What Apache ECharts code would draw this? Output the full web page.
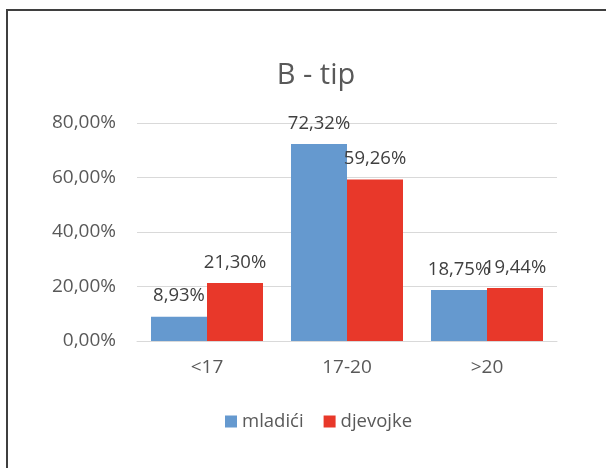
<!DOCTYPE html>
<html>
<head>
<meta charset="utf-8">
<script src="https://cdn.jsdelivr.net/npm/echarts@6/dist/echarts.min.js"></script>
<style>
  html, body { margin: 0; padding: 0; background: #fff; overflow: hidden; }
  #frame { position: absolute; left: 6px; top: 9px; width: 700px; height: 600px; border: 2px solid #3f3f3f; }
  #chart { position: absolute; left: 0; top: 0; width: 606px; height: 468px; }
</style>
</head>
<body>
<div id="frame"></div>
<div id="chart"></div>
<script>
const categories = ['<17', '17-20', '>20']
const mladici = [8.93, 72.32, 18.75]
const djevojke = [21.30, 59.26, 19.44]
const yTicks = [0, 20, 40, 60, 80]

const fmt = v => v.toFixed(2).replace('.', ',') + '%'
const font = '"Open Sans", "DejaVu Sans", sans-serif'

const chart = echarts.init(document.getElementById('chart'))

function barSeries(name, data, color) {
  return {
    name,
    type: 'bar',
    data,
    barGap: '0%',
    barCategoryGap: '20%',
    itemStyle: { color },
    label: {
      show: true,
      position: 'top',
      distance: 11,
      color: '#404040',
      fontFamily: font,
      fontSize: 18.5,
      formatter: p => fmt(p.value),
    },
  }
}

chart.setOption({
  animation: false,
  backgroundColor: 'transparent',
  title: {
    text: 'B - tip',
    left: 311,
    top: 56,
    textAlign: 'center',
    textStyle: { color: '#595959', fontFamily: font, fontSize: 29, fontWeight: 'normal' },
  },
  legend: {
    data: ['mladići', 'djevojke'],
    left: 220,
    top: 407,
    icon: 'rect',
    itemWidth: 12,
    itemHeight: 12,
    itemGap: 20,
    textStyle: { color: '#595959', fontFamily: font, fontSize: 18.5 },
  },
  grid: { left: 137, right: 49, top: 123, bottom: 127 },
  xAxis: {
    type: 'category',
    data: categories,
    axisLine: { lineStyle: { color: '#d9d9d9', width: 1 } },
    axisTick: { show: false },
    axisLabel: { color: '#595959', fontFamily: font, fontSize: 19, margin: 17 },
  },
  yAxis: {
    type: 'value',
    min: yTicks[0],
    max: yTicks[yTicks.length - 1],
    interval: 20,
    axisLine: { show: false },
    axisTick: { show: false },
    splitLine: { lineStyle: { color: '#d9d9d9', width: 1 } },
    axisLabel: { color: '#595959', fontFamily: font, fontSize: 19, margin: 21, formatter: v => fmt(v) },
  },
  series: [
    barSeries('mladići', mladici, '#6599cf'),
    barSeries('djevojke', djevojke, '#e8382a'),
  ],
})
</script>
</body>
</html>
